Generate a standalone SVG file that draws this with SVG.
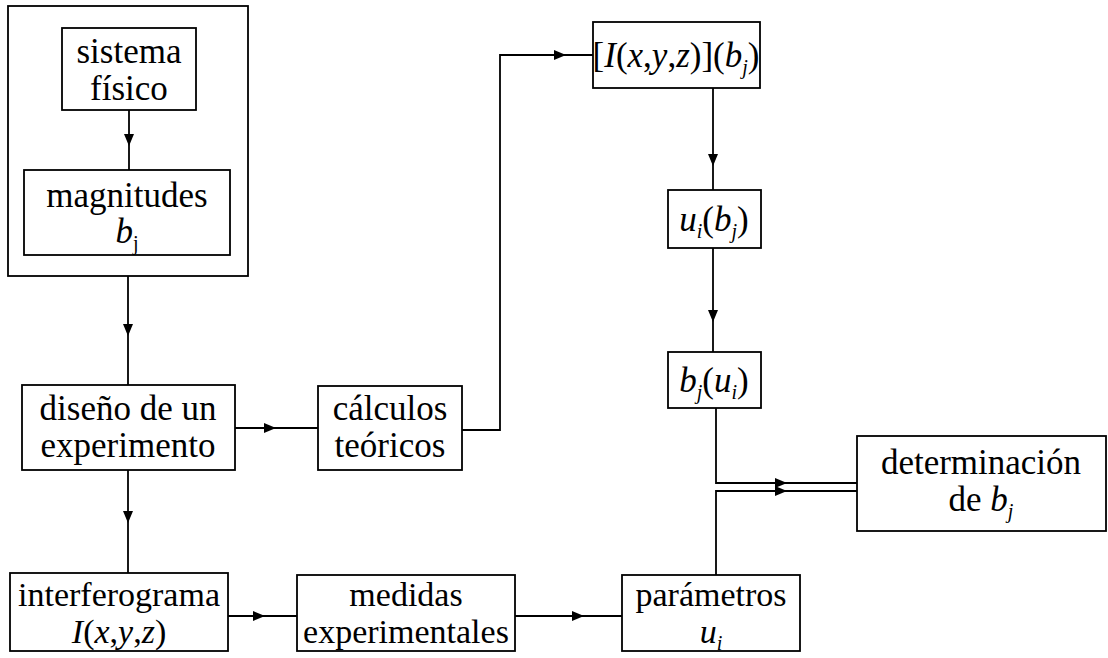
<svg xmlns="http://www.w3.org/2000/svg" xmlns:xlink="http://www.w3.org/1999/xlink" width="1108" height="658" viewBox="0 0 1108 658">
<style>
  .box { fill: none; stroke: #000; stroke-width: 1.8; }
  .ln { fill: none; stroke: #000; stroke-width: 1.8; }
  .t { font-family: "Liberation Serif", "Times New Roman", serif; font-size: 35px; fill: #000; text-anchor: middle; }
  .s { font-size: 34px; }
  .i { font-style: italic; }
  .sub { font-size: 20px; }
</style>
<defs>
  <path id="ah" d="M0,0 L-12,-5 L-12,5 Z" fill="#000"/>
</defs>
<rect width="1108" height="658" fill="#fff"/>

<g id="frame">
  <rect class="box" x="8" y="6" width="240" height="270"/>
</g>

<g id="n-sistema">
  <rect class="box" x="62" y="28" width="134" height="82"/>
  <text class="t" x="129" y="63">sistema</text>
  <text class="t" x="129" y="100">físico</text>
</g>

<g id="n-magnitudes">
  <rect class="box" x="24" y="170" width="206" height="85"/>
  <text class="t" x="127" y="207">magnitudes</text>
  <text class="t" x="127" y="243"><tspan class="i">b</tspan><tspan class="sub" dy="7">j</tspan></text>
</g>

<g id="n-diseno">
  <rect class="box" x="22" y="385" width="213" height="85"/>
  <text class="t" x="128" y="420">diseño de un</text>
  <text class="t" x="128" y="457">experimento</text>
</g>

<g id="n-calculos">
  <rect class="box" x="318" y="386" width="144" height="84"/>
  <text class="t" x="390" y="420">cálculos</text>
  <text class="t" x="390" y="457">teóricos</text>
</g>

<g id="n-intensidad">
  <rect class="box" x="593" y="22" width="167" height="66"/>
  <text class="t" x="676" y="67">[<tspan class="i">I</tspan>(<tspan class="i">x</tspan>,<tspan class="i">y</tspan>,<tspan class="i">z</tspan>)](<tspan class="i">b</tspan><tspan class="sub i" dy="7">j</tspan><tspan dy="-7">)</tspan></text>
</g>

<g id="n-ubj">
  <rect class="box" x="668" y="190" width="93" height="58"/>
  <text class="t" x="714" y="231"><tspan class="i">u</tspan><tspan class="sub i" dy="7">i</tspan><tspan dy="-7">(</tspan><tspan class="i">b</tspan><tspan class="sub i" dy="7">j</tspan><tspan dy="-7">)</tspan></text>
</g>

<g id="n-bju">
  <rect class="box" x="668" y="352" width="93" height="56"/>
  <text class="t" x="714" y="392"><tspan class="i">b</tspan><tspan class="sub i" dy="7">j</tspan><tspan dy="-7">(</tspan><tspan class="i">u</tspan><tspan class="sub i" dy="7">i</tspan><tspan dy="-7">)</tspan></text>
</g>

<g id="n-determinacion">
  <rect class="box" x="857" y="436" width="249" height="95"/>
  <text class="t" x="981" y="474">determinación</text>
  <text class="t" x="981" y="511">de <tspan class="i">b</tspan><tspan class="sub i" dy="7">j</tspan></text>
</g>

<g id="n-interferograma">
  <rect class="box" x="10" y="573" width="218" height="78"/>
  <text class="t s" x="119" y="606">interferograma</text>
  <text class="t s" x="119" y="643"><tspan class="i">I</tspan>(<tspan class="i">x</tspan>,<tspan class="i">y</tspan>,<tspan class="i">z</tspan>)</text>
</g>

<g id="n-medidas">
  <rect class="box" x="297" y="575" width="218" height="76"/>
  <text class="t s" x="406" y="606">medidas</text>
  <text class="t s" x="406" y="643">experimentales</text>
</g>

<g id="n-parametros">
  <rect class="box" x="622" y="575" width="178" height="76"/>
  <text class="t s" x="711" y="606">parámetros</text>
  <text class="t s" x="711" y="643"><tspan class="i">u</tspan><tspan class="sub i" dy="7">i</tspan></text>
</g>

<g id="connectors">
  <path class="ln" d="M129,110 V170"/>
  <use xlink:href="#ah" transform="translate(129,146) rotate(90)"/>
  <path class="ln" d="M128,276 V385"/>
  <use xlink:href="#ah" transform="translate(128,336) rotate(90)"/>
  <path class="ln" d="M235,428 H318"/>
  <use xlink:href="#ah" transform="translate(276,428)"/>
  <path class="ln" d="M462,430 H500 V55 H593"/>
  <use xlink:href="#ah" transform="translate(566,55)"/>
  <path class="ln" d="M713,88 V190"/>
  <use xlink:href="#ah" transform="translate(713,166) rotate(90)"/>
  <path class="ln" d="M713,248 V352"/>
  <use xlink:href="#ah" transform="translate(713,322) rotate(90)"/>
  <path class="ln" d="M716,408 V483 H857"/>
  <use xlink:href="#ah" transform="translate(787,483)"/>
  <path class="ln" d="M716,575 V491 H857"/>
  <use xlink:href="#ah" transform="translate(787,491)"/>
  <path class="ln" d="M128,470 V573"/>
  <use xlink:href="#ah" transform="translate(128,523) rotate(90)"/>
  <path class="ln" d="M228,616 H297"/>
  <use xlink:href="#ah" transform="translate(265,616)"/>
  <path class="ln" d="M515,616 H622"/>
  <use xlink:href="#ah" transform="translate(584,616)"/>
</g>
</svg>
